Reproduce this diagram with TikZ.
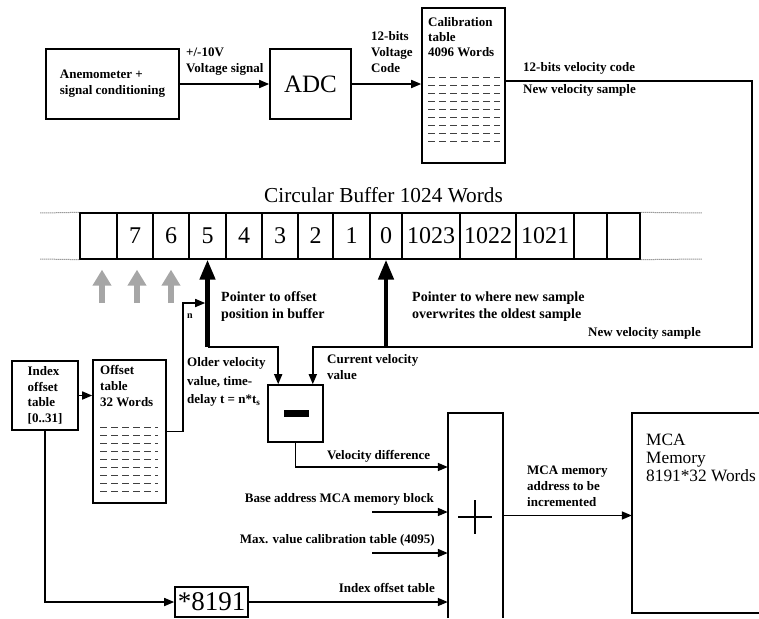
\documentclass[tikz,border=0pt]{standalone}
\usepackage{fontspec}
\setmainfont{Liberation Serif}
\usetikzlibrary{arrows.meta,calc}
\newcommand\lbl{\fontsize{13}{16}\selectfont\bfseries}
\newcommand\plbl{\fontsize{14}{17}\selectfont\bfseries}
\tikzset{
 box/.style={draw, line width=1.6pt, inner sep=0pt},
 conn/.style={line width=1.6pt},
 arr/.style={conn, -{Triangle[length=10pt,width=8pt]}},
 ptr/.style={line width=4.5pt, -{Triangle[length=20pt,width=15pt]}},
 gptr/.style={line width=6pt, draw=gray!70, -{Triangle[length=16pt,width=18pt]}},
 cell/.style={draw, line width=1.3pt, minimum height=46pt, inner sep=0pt, font=\fontsize{24}{24}\selectfont},
 lab/.style={inner sep=0pt, align=left, font=\lbl},
 plab/.style={inner sep=0pt, align=left, font=\plbl},
 dashrow/.style={line width=1pt, dash pattern=on 7pt off 4pt, draw=black!75},
 dotl/.style={line width=1pt, densely dotted, draw=black!60},
}
\begin{document}
\begin{tikzpicture}[x=1pt,y=-1pt]
\useasboundingbox (0,0) rectangle (759,618);
% top row
\node[box, minimum width=133pt, minimum height=70pt, align=left, font=\lbl] (anem) at (112.5,84) {Anemometer +\\signal conditioning};
\node[box, minimum width=81pt, minimum height=70pt, font=\fontsize{25}{25}\selectfont] (adc) at (310.5,84) {ADC};
\node[box, minimum width=83pt, minimum height=155pt] (cal) at (463.5,85.5) {};
\node[lab, anchor=west, font=\fontsize{13}{15}\selectfont\bfseries] (caltxt) at (428,37) {Calibration\\table\\4096 Words};
\foreach \k in {0,...,8} \draw[dashrow] (428,{77+8.1*\k}) -- (500,{77+8.1*\k});
\node[lab, anchor=west] (volt) at (186,61.5) {+/-10V\\Voltage signal};
\node[lab, anchor=west] (code) at (371,52) {12-bits\\Voltage\\Code};
\node[lab, anchor=west] (velcode) at (523,68) {12-bits velocity code};
\node[lab, anchor=west] (newvel1) at (523,90) {New velocity sample};
\draw[arr] (anem.east) -- (adc.west);
\draw[arr] (adc.east) -- (cal.west |- adc.east);
% buffer
\node[anchor=west, inner sep=0pt, font=\fontsize{21.3}{24}\selectfont] (title) at (264,195) {Circular Buffer 1024 Words};
\node[cell, minimum width=37pt] (cA) at (98.5,236) {};
\node[cell, minimum width=36pt] (c7) at (135,236) {7};
\node[cell, minimum width=36pt] (c6) at (171,236) {6};
\node[cell, minimum width=37pt] (c5) at (207.5,236) {5};
\node[cell, minimum width=36pt] (c4) at (244,236) {4};
\node[cell, minimum width=36pt] (c3) at (280,236) {3};
\node[cell, minimum width=35pt] (c2) at (315.5,236) {2};
\node[cell, minimum width=37pt] (c1) at (351.5,236) {1};
\node[cell, minimum width=32pt] (c0) at (386,236) {0};
\node[cell, minimum width=58pt] (c1023) at (431,236) {1023};
\node[cell, minimum width=56pt] (c1022) at (488,236) {1022};
\node[cell, minimum width=58pt] (c1021) at (545,236) {1021};
\node[cell, minimum width=33pt] (cB) at (590.5,236) {};
\node[cell, minimum width=33pt] (cC) at (623.5,236) {};
\coordinate (dl1) at (40,213); \coordinate (dl2) at (40,259);
\coordinate (dr1) at (702,213); \coordinate (dr2) at (702,259);
\draw[dotl] (cA.north west) -- (dl1);
\draw[dotl] (cA.south west) -- (dl2);
\draw[dotl] (cC.north east) -- (dr1);
\draw[dotl] (cC.south east) -- (dr2);
% gray pointers
\coordinate (gA) at (102,303); \coordinate (gB) at (137,303); \coordinate (gC) at (171,303);
\draw[gptr, shorten >=10pt] (gA) -- (gA |- cA.south);
\draw[gptr, shorten >=10pt] (gB) -- (gB |- c7.south);
\draw[gptr, shorten >=10pt] (gC) -- (gC |- c6.south);
% minus box
\node[box, minimum width=55pt, minimum height=57pt] (minus) at (295.5,413.5) {};
\fill ([xshift=-12pt,yshift=3.5pt]minus.center) rectangle ([xshift=13pt,yshift=-3.5pt]minus.center);
\coordinate (tr) at (752,81);
\coordinate (br) at (752,347);
\coordinate (mnr) at ([xshift=-11pt]minus.north east);
\coordinate (mnl) at ([xshift=11pt]minus.north west);
\draw[arr] ([yshift=4.5pt]cal.east) -- (tr) -- (br) -- (mnr |- br) -- (mnr);
\draw[ptr] (c0.south |- br) -- (c0.south);
\draw[arr] (c5.south |- br) -- (mnl |- br) -- (mnl);
\draw[ptr] (c5.south |- br) -- (c5.south);
\node[plab, anchor=west] (p1) at (221,306.5) {Pointer to offset\\position in buffer};
\node[plab, anchor=west] (p2) at (412,306.5) {Pointer to where new sample\\overwrites the oldest sample};
\node[lab, anchor=west] (newvel2) at (588,333) {New velocity sample};
% offset tables
\node[box, minimum width=66pt, minimum height=69pt, align=left, font=\fontsize{13}{15.7}\selectfont\bfseries] (idx) at (45,395.5) {Index\\offset\\table\\{[}0..31{]}};
\node[box, minimum width=73pt, minimum height=143pt] (off) at (129.5,431.5) {};
\node[lab, anchor=west] (offtxt) at (100,386) {Offset\\table\\32 Words};
\foreach \k in {0,...,8} \draw[dashrow] (100,{427+8.1*\k}) -- (158,{427+8.1*\k});
\draw[arr] (idx.east) -- (off.west |- idx.east);
\coordinate (nup) at (183,303);
\draw[arr, shorten >=2.3pt] (off.east) -| (nup) -- (c5.south |- nup);
\node[inner sep=0pt, font=\fontsize{10}{10}\selectfont\bfseries] (nlab) at (190,316) {n};
\node[lab, anchor=west, font=\fontsize{13}{18.5}\selectfont\bfseries] (older) at (187,382) {Older velocity\\value, time-\\delay t = n*t\textsubscript{s}};
\node[lab, anchor=west] (curr) at (327,367) {Current velocity\\value};
% adder
\node[minimum width=55pt, minimum height=205pt, inner sep=0pt] (plus) at (475.5,515.5) {};
\draw[conn] (plus.south west) -- (plus.north west) -- (plus.north east) -- (plus.south east);
\coordinate (pc) at (475,517);
\draw[line width=2.5pt] ([xshift=-17pt]pc) -- ([xshift=17pt]pc);
\draw[line width=2.5pt] ([yshift=17pt]pc) -- ([yshift=-17pt]pc);
\coordinate (yvd) at (0,467);
\draw[arr] (minus.south) |- (plus.west |- yvd);
\node[lab, anchor=west] (vdiff) at (327,456) {Velocity difference};
\coordinate (ba) at (372,512);
\draw[arr] (ba) -- (plus.west |- ba);
\node[lab, anchor=east] (balab) at (434,499) {Base address MCA memory block};
\coordinate (mx) at (372,553);
\draw[arr] (mx) -- (plus.west |- mx);
\node[lab, anchor=east] (mxlab) at (435,540) {Max. value calibration table (4095)};
\node[box, minimum width=73pt, minimum height=30pt, font=\fontsize{27}{27}\selectfont] (mul) at (211.5,602) {*8191};
\draw[arr] (idx.south) |- (mul.west);
\draw[arr] (mul.east) -- (plus.west |- mul.east);
\node[lab, anchor=east] (ixlab) at (435,588) {Index offset table};
% MCA
\node[minimum width=127pt, minimum height=200pt, inner sep=0pt] (mca) at (695.5,513) {};
\draw[conn] (mca.north east) -- (mca.north west) -- (mca.south west) -- (mca.south east);
\node[anchor=west, inner sep=0pt, align=left, font=\fontsize{17.3}{18}\selectfont] (mcatxt) at (646,458) {MCA\\Memory\\8191*32 Words};
\draw[arr] (plus.east) -- (mca.west |- plus.east);
\node[lab, anchor=west] (mcalab) at (527,486) {MCA memory\\address to be\\incremented};
\end{tikzpicture}
\end{document}
